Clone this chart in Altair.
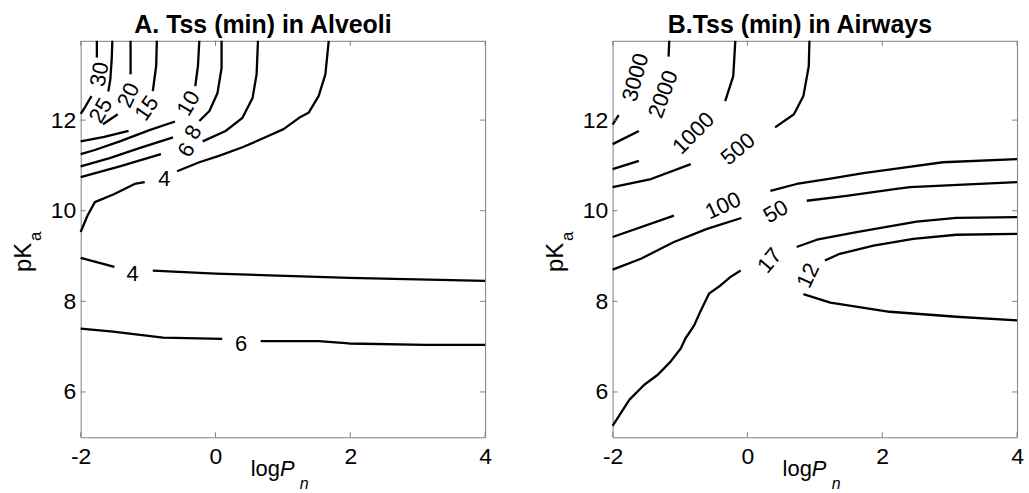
import altair as alt
import pandas as pd

FONT = "Liberation Sans"
GRAY = "#808080"
W, H = 406, 398
X_DOMAIN = [-2, 4]
Y_DOMAIN = [5, 13.75]
X_TICKS = [-2, 0, 2, 4]
Y_TICKS = [6, 8, 10, 12]

# ---- A. Tss (min) in Alveoli: contour pieces as (logPn, pKa), split where labels sit ----
A30_TOP = [(-1.76, 13.75), (-1.76, 13.38)]
A30_LOW = [(-1.84, 12.53), (-1.93, 12.30), (-2.00, 12.14)]
A25_TOP = [(-1.53, 13.75), (-1.54, 13.34), (-1.56, 12.90), (-1.59, 12.63)]
A20_TOP = [(-1.26, 13.75), (-1.26, 13.01)]
A20_LOW = [(-1.45, 12.13), (-1.67, 11.91)]
A15_TOP = [(-0.87, 13.75), (-0.88, 13.20), (-0.93, 12.64)]
A15_LOW = [(-1.29, 11.76), (-1.65, 11.63), (-2.00, 11.53)]
A10_TOP = [(-0.24, 13.75), (-0.26, 13.20), (-0.30, 12.75)]
A10_LOW = [(-0.60, 11.97), (-0.98, 11.78), (-1.42, 11.53), (-1.79, 11.34), (-2.00, 11.25)]
A8_TOP = [(0.09, 13.75), (0.09, 13.15), (0.03, 12.60), (-0.09, 12.20), (-0.24, 11.98)]
A8_LOW = [(-0.63, 11.62), (-1.13, 11.38), (-1.57, 11.16), (-2.00, 10.98)]
A6_TOP = [(0.63, 13.75), (0.61, 13.01), (0.55, 12.49), (0.40, 12.05), (0.15, 11.76), (-0.19, 11.53)]
A6_LOW = [(-0.81, 11.25), (-1.42, 10.98), (-2.00, 10.74)]
A4_TOP = [(1.68, 13.75), (1.63, 13.01), (1.53, 12.53), (1.38, 12.16), (1.24, 12.05), (1.01, 11.80),
          (0.74, 11.62), (0.40, 11.40), (0.05, 11.21), (-0.24, 11.07), (-0.57, 10.87)]
A4_LEFT = [(-1.05, 10.63), (-1.20, 10.59), (-1.50, 10.37), (-1.79, 10.19), (-1.90, 9.89), (-2.00, 9.53)]
A4_BAND_L = [(-2.00, 8.96), (-1.50, 8.76)]
A4_BAND_R = [(-0.93, 8.68), (0.00, 8.61), (1.98, 8.52), (4.00, 8.45)]
A6_BAND_L = [(-2.00, 7.40), (-1.52, 7.33), (-0.78, 7.20), (0.10, 7.17)]
A6_BAND_R = [(0.67, 7.12), (1.53, 7.12), (1.98, 7.07), (3.11, 7.04), (4.00, 7.04)]

A_SEGMENTS = [A30_TOP, A30_LOW, A25_TOP, A20_TOP, A20_LOW, A15_TOP, A15_LOW, A10_TOP, A10_LOW,
              A8_TOP, A8_LOW, A6_TOP, A6_LOW, A4_TOP, A4_LEFT, A4_BAND_L, A4_BAND_R,
              A6_BAND_L, A6_BAND_R]

# contour level labels: text, logPn, pKa, rotation
A_LABELS = [("30", -1.72, 13.01, 280), ("25", -1.70, 12.21, 300), ("20", -1.29, 12.55, 295),
            ("15", -1.02, 12.26, 305), ("10", -0.40, 12.37, 300), ("8", -0.33, 11.73, 300),
            ("6", -0.43, 11.34, 300), ("4", -0.76, 10.70, 0), ("4", -1.23, 8.61, 0),
            ("6", 0.38, 7.05, 0)]

# ---- B. Tss (min) in Airways ----
B3000 = [(-2.00, 11.90), (-1.91, 12.11)]
B2000_TOP = [(-1.16, 13.75), (-1.17, 13.40)]
B2000_LOW = [(-2.00, 11.47), (-1.61, 11.76)]
B1000_TOP = [(-0.18, 13.75), (-0.21, 12.97), (-0.33, 12.42)]
B1000_LOW = [(-2.00, 10.92), (-1.61, 11.10)]
B500_TOP = [(0.92, 13.75), (0.91, 13.19), (0.83, 12.53), (0.69, 12.13), (0.41, 11.84)]
B500_LOW = [(-2.00, 10.52), (-1.43, 10.70), (-0.84, 11.03)]
B100_L = [(-2.00, 9.42), (-1.09, 9.89)]
B100_R = [(0.34, 10.44), (0.73, 10.59), (1.23, 10.71), (1.72, 10.83), (2.21, 10.93), (2.90, 11.07), (4.00, 11.14)]
B50_L = [(-2.00, 8.70), (-1.58, 8.94), (-1.09, 9.31), (-0.60, 9.60), (-0.09, 9.84)]
B50_R = [(0.88, 10.22), (1.47, 10.33), (2.21, 10.48), (2.41, 10.52), (4.00, 10.63)]
B17_L = [(-2.00, 5.25), (-1.75, 5.83), (-1.53, 6.16), (-1.33, 6.38), (-1.14, 6.67), (-0.99, 6.96),
         (-0.92, 7.18), (-0.79, 7.47), (-0.70, 7.77), (-0.57, 8.17), (-0.40, 8.35), (-0.25, 8.54), (-0.10, 8.68)]
B17_R = [(0.73, 9.20), (1.03, 9.36), (1.62, 9.53), (2.51, 9.76), (3.10, 9.84), (4.00, 9.86)]
B12_UP = [(1.15, 8.90), (1.37, 9.05), (1.87, 9.23), (2.46, 9.38), (3.10, 9.47), (4.00, 9.49)]
B12_DN = [(0.83, 8.16), (1.23, 7.97), (2.11, 7.77), (3.10, 7.66), (4.00, 7.58)]

B_SEGMENTS = [B3000, B2000_TOP, B2000_LOW, B1000_TOP, B1000_LOW, B500_TOP, B500_LOW,
              B100_L, B100_R, B50_L, B50_R, B17_L, B17_R, B12_UP, B12_DN]

B_LABELS = [("3000", -1.66, 12.94, 285), ("2000", -1.25, 12.57, 290), ("1000", -0.80, 11.71, 315),
            ("500", -0.14, 11.36, 320), ("100", -0.36, 10.11, 335), ("50", 0.42, 9.98, 330),
            ("17", 0.33, 8.90, 310), ("12", 0.90, 8.57, 295)]


def seg_frame(segments):
    rows = []
    for k, pts in enumerate(segments):
        for i, (x, y) in enumerate(pts):
            rows.append({"seg": k, "i": i, "x": x, "y": y})
    return pd.DataFrame(rows)


def text_layer(txt, x, y, size, **kw):
    return alt.Chart(pd.DataFrame({"t": [txt]})).mark_text(
        font=FONT, fontSize=size, color="black", **kw
    ).encode(x=alt.value(x), y=alt.value(y), text="t:N")


def panel(segments, labels, title, dx):
    xs = alt.Scale(domain=X_DOMAIN, nice=False, zero=False)
    ys = alt.Scale(domain=Y_DOMAIN, nice=False, zero=False)
    xaxis = alt.Axis(values=X_TICKS, title=None, grid=False, domain=False, ticks=False,
                     labelFlush=False, labelOverlap=False, labelPadding=8, labelFontSize=23,
                     labelFont=FONT, labelColor="black", labelExpr="'' + datum.value")
    yaxis = alt.Axis(values=Y_TICKS, title=None, grid=False, domain=False, ticks=False,
                     labelOverlap=False, labelPadding=5, labelFontSize=23,
                     labelFont=FONT, labelColor="black", labelExpr="'' + datum.value")
    X = lambda f: alt.X(f, scale=xs, axis=xaxis)
    Y = lambda f: alt.Y(f, scale=ys, axis=yaxis)

    lines = alt.Chart(seg_frame(segments)).mark_line(
        color="black", strokeWidth=2.3, strokeJoin="round"
    ).encode(x=X("x:Q"), y=Y("y:Q"), detail="seg:N", order="i:Q")

    lab = pd.DataFrame(labels, columns=["t", "x", "y", "a"])
    texts = alt.Chart(lab).mark_text(font=FONT, fontSize=22, color="black").encode(
        x=X("x:Q"), y=Y("y:Q"), text="t:N", angle=alt.Angle("a:Q", scale=None))

    xt = alt.Chart(pd.DataFrame({"v": X_TICKS})).mark_rule(color=GRAY, strokeWidth=1)
    yt = alt.Chart(pd.DataFrame({"v": Y_TICKS})).mark_rule(color=GRAY, strokeWidth=1)
    ticks = [
        xt.encode(x=X("v:Q"), y=alt.value(H), y2=alt.value(H - 5)),
        xt.encode(x=X("v:Q"), y=alt.value(0), y2=alt.value(5)),
        yt.encode(y=Y("v:Q"), x=alt.value(0), x2=alt.value(5)),
        yt.encode(y=Y("v:Q"), x=alt.value(W - 5), x2=alt.value(W)),
    ]

    # x title: log P_n ; y title: pK_a
    xtitle = [
        text_layer("log", 200, 437, 22, align="right", baseline="alphabetic"),
        text_layer("P", 200, 437, 22, align="left", baseline="alphabetic", fontStyle="italic"),
        text_layer("n", 220, 450, 16, align="left", baseline="alphabetic", fontStyle="italic"),
    ]
    ytitle = [
        text_layer("pK", -50, 232, 24, align="left", baseline="alphabetic", angle=270),
        text_layer("a", -40, 201, 17, align="left", baseline="alphabetic", angle=270),
    ]

    return alt.layer(lines, texts, *ticks, *xtitle, *ytitle).properties(
        width=W, height=H,
        title=alt.TitleParams(title, font=FONT, fontSize=25, fontWeight="bold",
                              color="black", dx=dx, offset=2, anchor="middle"),
    )


chart = alt.hconcat(
    panel(A_SEGMENTS, A_LABELS, "A. Tss (min) in Alveoli", -20),
    panel(B_SEGMENTS, B_LABELS, "B.Tss (min) in Airways", -15),
    spacing=128, bounds="flush",
).configure_view(stroke=GRAY, strokeWidth=1).properties(
    padding={"left": 11, "top": 11, "right": 5, "bottom": 5}
)

chart.save("out.html", embed_options={"renderer": "svg", "actions": False})
